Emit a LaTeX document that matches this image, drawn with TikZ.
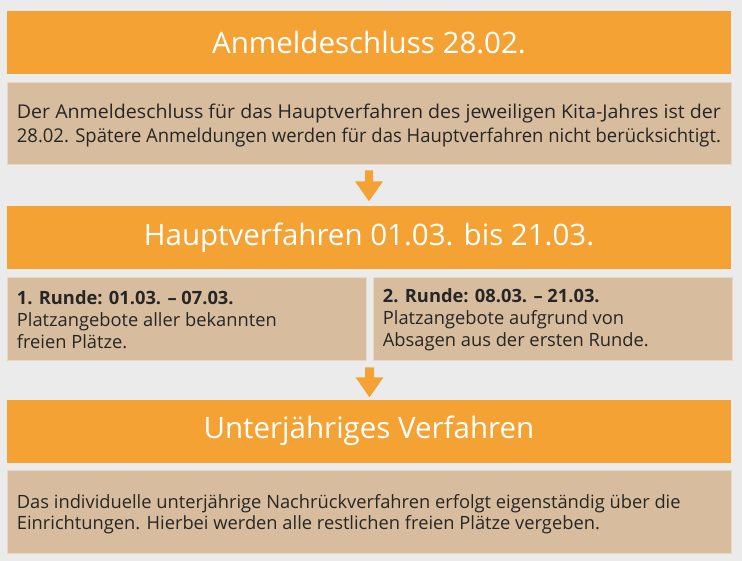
\documentclass[tikz,border=0pt]{standalone}
\usepackage{fontspec}
\setmainfont{Open Sans}
\usetikzlibrary{calc}
\definecolor{bgc}{HTML}{EBEBEB}
\definecolor{orng}{HTML}{F4A234}
\definecolor{beig}{HTML}{D7BD9E}
\definecolor{txt}{HTML}{262626}
\newcommand{\fitline}[1]{\resizebox{704pt}{\height}{#1}}
\tikzset{
  headbox/.style={fill=orng, draw=none, inner sep=0pt, minimum width=724pt, minimum height=63pt, text=white, font=\fontsize{29.5}{33}\selectfont},
  infobox/.style={fill=beig, draw=white!40!beig, line width=0.6pt, inner sep=0pt, minimum height=82pt},
  infotext/.style={anchor=west, align=left, inner sep=0pt, text=txt},
  arrowshape/.style={fill=orng, draw=none}
}
\begin{document}
\begin{tikzpicture}[x=1pt,y=-1pt]
\fill[bgc] (0,0) rectangle (742,561);
\useasboundingbox (0,0) rectangle (742,561);
% row 1
\node[headbox] (h1) at (369,42.5) {Anmeldeschluss 28.02.};
\node[infobox, minimum width=724pt] (b1) at (369,123) {};
\node[infotext, font=\fontsize{19}{24}\selectfont] (t1) at ($(b1.west)+(10,3)$)
  {\fitline{Der Anmeldeschluss für das Hauptverfahren des jeweiligen Kita-Jahres ist der}\\\fitline{28.02. Spätere Anmeldungen werden für das Hauptverfahren nicht berücksichtigt.}};
% arrow 1
\coordinate (a1) at (b1.south);
\fill[arrowshape] ($(a1)+(-4,6)$) -- ($(a1)+(4,6)$) -- ($(a1)+(4,17)$) -- ($(a1)+(14,17)$)
  -- ($(a1)+(0,37)$) -- ($(a1)+(-14,17)$) -- ($(a1)+(-4,17)$) -- cycle;
% row 2
\node[headbox] (h2) at (369,238) {Hauptverfahren 01.03. bis 21.03.};
\node[infobox, minimum width=359pt, minimum height=83pt] (b2a) at (186.5,318.5) {};
\node[infobox, minimum width=359pt, minimum height=83pt] (b2b) at (552.5,318.5) {};
\node[infotext, font=\fontsize{18.3}{22}\selectfont] (t2a) at ($(b2a.west)+(10,1)$)
  {\textbf{1. Runde: 01.03. – 07.03.}\\Platzangebote aller bekannten\\freien Plätze.};
\node[infotext, font=\fontsize{18.3}{22}\selectfont] (t2b) at ($(b2b.west)+(10,1)$)
  {\textbf{2. Runde: 08.03. – 21.03.}\\Platzangebote aufgrund von\\Absagen aus der ersten Runde.};
% arrow 2
\coordinate (a2) at ($(b2a.south east)!0.5!(b2b.south west)$);
\fill[arrowshape] ($(a2)+(-4.5,7)$) -- ($(a2)+(4.5,7)$) -- ($(a2)+(4.5,17)$) -- ($(a2)+(14,17)$)
  -- ($(a2)+(0,37)$) -- ($(a2)+(-14,17)$) -- ($(a2)+(-4.5,17)$) -- cycle;
% row 3
\node[headbox] (h3) at (369,431) {Unterjähriges Verfahren};
\node[infobox, minimum width=724pt, minimum height=83pt] (b3) at (369,511.5) {};
\node[infotext, font=\fontsize{18.3}{21}\selectfont] (t3) at ($(b3.west)+(10,3)$)
  {Das individuelle unterjährige Nachrückverfahren erfolgt eigenständig über die\\Einrichtungen. Hierbei werden alle restlichen freien Plätze vergeben.};
\end{tikzpicture}
\end{document}
